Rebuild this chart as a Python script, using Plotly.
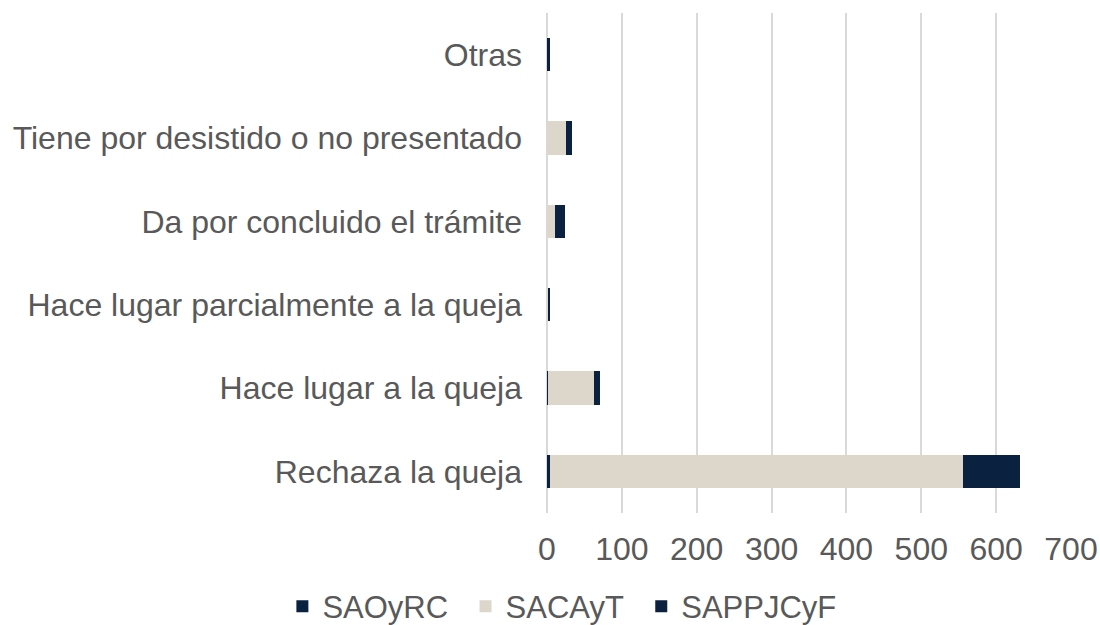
import plotly.graph_objects as go

categories = ["Rechaza la queja", "Hace lugar a la queja", "Hace lugar parcialmente a la queja",
              "Da por concluido el trámite", "Tiene por desistido o no presentado", "Otras"]
series_names = ["SAOyRC", "SACAyT", "SAPPJCyF"]
saoyrc = [4, 1, 0, 0, 0, 0]
sacayt = [552, 62, 2, 11, 26, 0]
sappjcyf = [76, 8, 1, 13, 8, 4]
x_ticks = [0, 100, 200, 300, 400, 500, 600, 700]

dark = "#0A2240"
beige = "#DDD6CB"
txt = "#595959"

pad = "\u2009\u2009"  # small extra spacing between legend entries
fig = go.Figure()
for name, vals, col in zip(series_names, [saoyrc, sacayt, sappjcyf], [dark, beige, dark]):
    fig.add_trace(go.Bar(y=categories, x=vals, name=name + pad, orientation="h",
                         marker=dict(color=col, line=dict(width=0))))

fig.update_layout(
    barmode="stack", bargap=0.6,
    width=1100, height=625,
    margin=dict(l=547, r=29, t=13, b=112, autoexpand=False),
    plot_bgcolor="white", paper_bgcolor="white",
    font=dict(family="Liberation Sans, Arial", size=32, color=txt),
    xaxis=dict(range=[0, 700], tickvals=x_ticks, showgrid=True, gridcolor="#D9D9D9", gridwidth=2,
               zeroline=True, zerolinecolor="#D9D9D9", zerolinewidth=2, ticks="", showline=False,
               automargin=False, ticklabelstandoff=14,
               tickfont=dict(size=32, color=txt)),
    yaxis=dict(ticks="", showline=False, automargin=False, ticklabelstandoff=24,
               tickfont=dict(size=32, color=txt)),
    legend=dict(orientation="h", xref="paper", yref="paper",
                x=-0.505, xanchor="left", y=-0.133, yanchor="top",
                font=dict(size=31, color=txt), traceorder="normal"),
    showlegend=True,
)
fig.write_html("out.html", config={"displayModeBar": False},
               post_script="document.body.style.margin='0';")
